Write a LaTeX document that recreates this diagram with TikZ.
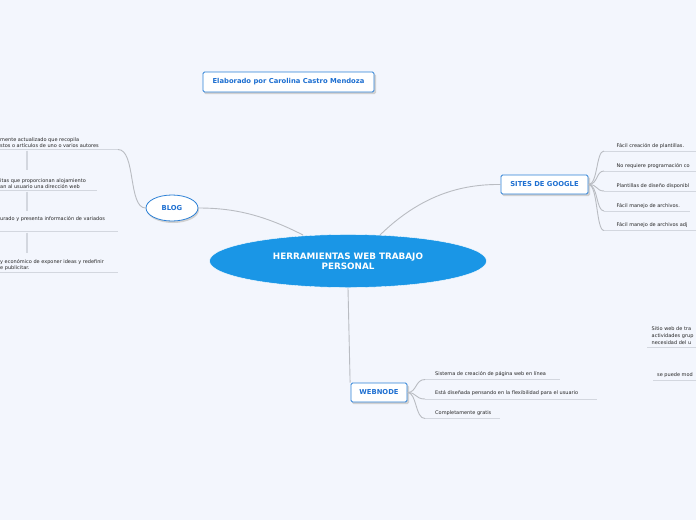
\documentclass[tikz,border=0pt]{standalone}
\usepackage{fontspec}
\setmainfont{DejaVu Sans}
\usepackage{tikz}
\usetikzlibrary{shapes.geometric, positioning, calc}
\definecolor{bgPale}{HTML}{F3F6FD}
\definecolor{mBlue}{HTML}{1A96E6}
\definecolor{mEdge}{HTML}{2C80D6}
\definecolor{mText}{HTML}{1D6FD1}
\definecolor{mLink}{HTML}{B9BCC2}
\definecolor{mLine}{HTML}{D3D7DF}

\begin{document}
\begin{tikzpicture}[
  x=1pt, y=-1pt,
  every node/.style={font=\fontsize{5}{6.2}\selectfont, text=black!85},
  central/.style={ellipse, fill=mBlue, draw=white, thin,
    minimum width=277pt, minimum height=53pt, align=center,
    text=white, font=\fontsize{8.8}{10.4}\selectfont\bfseries},
  topic/.style={draw=mEdge, fill=white, thick, rounded corners=1.5pt,
    align=center, text=mText, font=\fontsize{6.8}{8}\selectfont\bfseries},
  blogbox/.style={ellipse, draw=mEdge, fill=white, thick,
    minimum width=52pt, minimum height=26pt,
    text=mText, font=\fontsize{6.8}{8}\selectfont\bfseries},
  shade/.style={fill=black!18, draw=none},
  leaf/.style={anchor=south west, inner sep=0pt, align=left},
  link/.style={draw=mLink, line width=0.9pt},
  uline/.style={draw=mLine, line width=0.9pt},
  stem/.style={draw=mLine, line width=1.6pt},
]
  \useasboundingbox[fill=bgPale] (0,0) rectangle (696,520);

  % main topics
  \node[central] (main) at (348,261) {HERRAMIENTAS WEB TRABAJO\\PERSONAL};

  \fill[shade, rounded corners=1.5pt] (204,74) rectangle (376,94);
  \node[topic, minimum width=171pt, minimum height=20pt] (autor) at (288.5,82) {Elaborado por Carolina Castro Mendoza};

  \fill[shade] (173,210) ellipse (26pt and 13pt);
  \node[blogbox] (blog) at (172,208) {BLOG};

  \fill[shade, rounded corners=1.5pt] (502,177) rectangle (590,196);
  \node[topic, minimum width=87pt, minimum height=19pt] (sites) at (544.5,184.5) {SITES DE GOOGLE};

  \fill[shade, rounded corners=1.5pt] (352,385) rectangle (409,404);
  \node[topic, minimum width=56pt, minimum height=19pt] (webnode) at (379,392.5) {WEBNODE};

  \draw[link] (303,235) .. controls (262,214) and (232,208) .. (blog.east);
  \draw[link] (380,235) .. controls (420,196) and (460,184) .. (sites.west);
  \draw[link] (348,288) -- ([xshift=-0.5pt]webnode.north west);

  % blog
  \coordinate (b1s) at (0,149.5);   \coordinate (b1e) at (118,149.5);
  \coordinate (b2s) at (0,190.5);   \coordinate (b2e) at (97,190.5);
  \coordinate (b3s) at (0,231.5);   \coordinate (b3e) at (118,231.5);
  \coordinate (b4s) at (0,272.5);   \coordinate (b4e) at (118,272.5);
  \node[leaf] (b1) at (0,147.5) {mente actualizado que recopila\\stos o artículos de uno o varios autores};
  \node[leaf] (b2) at (0,188.5) {itas que proporcionan alojamiento\\an al usuario una dirección web};
  \node[leaf] (b3) at (0,222) {urado y presenta información de variados};
  \node[leaf] (b4) at (0,270.5) {y económico de exponer ideas y redefinir\\e publicitar.};
  \foreach \i in {1,...,4} {
    \draw[uline] (b\i s) -- (b\i e);
  }
  \draw[stem] (27,150.5) -- (27,170);
  \draw[stem] (27,191.5) -- (27,211);
  \draw[stem] (27,232.5) -- (27,253);
  \draw[link] (blog.west) .. controls (128,208) and (136,149.5) .. (b1e);

  % sites de google
  \foreach \n/\y/\e/\t in {1/151/696/Fácil creación de plantillas.,
      2/171/696/No requiere programación co,
      3/191/696/Plantillas de diseño disponibl,
      4/211/690/Fácil manejo de archivos.,
      5/230.5/696/Fácil manejo de archivos adj} {
    \coordinate (s\n s) at (604,\y);
    \coordinate (s\n e) at (\e,\y);
    \node[leaf] (s\n) at (616.5,\y-2.5) {\t};
    \draw[uline] (s\n s) -- (s\n e);
    \draw[link] (sites.east) .. controls (598,184.5) and (596,\y) .. (s\n s);
  }

  % webnode
  \foreach \n/\y/\e/\t in {1/379.5/560/Sistema de creación de página web en línea,
      2/399/597/Está diseñada pensando en la flexibilidad para el usuario,
      3/418.5/500/Completamente gratis} {
    \coordinate (w\n s) at (425,\y);
    \coordinate (w\n e) at (\e,\y);
    \node[leaf] (w\n) at (435,\y-3) {\t};
    \draw[uline] (w\n s) -- (w\n e);
    \draw[link] (webnode.east) .. controls (417,392.5) and (415,\y) .. (w\n s);
  }

  % right side
  \coordinate (r1s) at (647,347.5); \coordinate (r1e) at (696,347.5);
  \coordinate (r2s) at (653,380.5); \coordinate (r2e) at (696,380.5);
  \node[leaf, font=\fontsize{5}{7}\selectfont] (r1) at (651.5,345) {Sitio web de tra\\actividades grup\\necesidad del u};
  \node[leaf] (r2) at (657,377.5) {se puede mod};
  \draw[uline] (r1s) -- (r1e);
  \draw[uline] (r2s) -- (r2e);
\end{tikzpicture}
\end{document}
